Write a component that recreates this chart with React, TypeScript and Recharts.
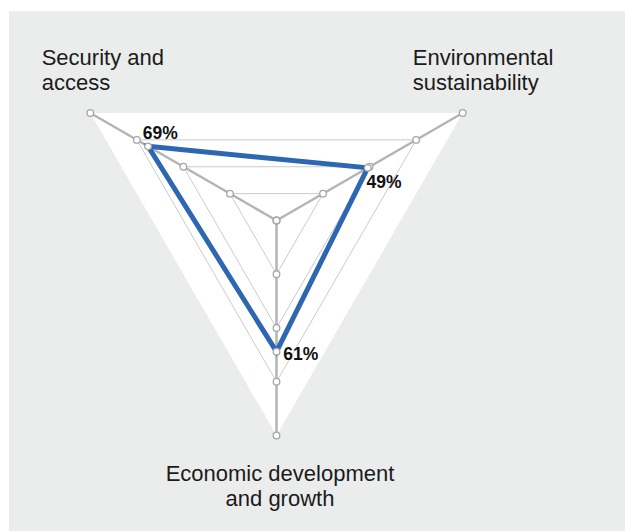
import React from 'react';
import { RadarChart, Radar, PolarGrid, PolarAngleAxis, PolarRadiusAxis } from 'recharts';

// ---- data ----
const categories = ['Security and access', 'Environmental sustainability', 'Economic development and growth'];
const categoryLines = [
  ['Security and', 'access'],
  ['Environmental', 'sustainability'],
  ['Economic development', 'and growth'],
];
const scores = [69, 49, 61];
const scoreLabels = ['69%', '49%', '61%'];
const gridLevels = [0, 25, 50, 75, 100];
const ringTicks = [25, 50, 75];
const radiusDomain = [0, 100];

const data = categories.map((c, i) => {
  const row: Record<string, any> = { axis: c, score: scores[i], label: scoreLabels[i] };
  gridLevels.forEach((l) => {
    row['lvl' + l] = l;
  });
  return row;
});

// ---- styling ----
const FONT = '"Liberation Sans", Arial, Helvetica, sans-serif';
const BLUE = '#2d67b2';
const AXIS_GRAY = '#b4b4b4';
const RING_GRAY = '#cbcbcb';
const DOT_STROKE = '#a6a6a6';

const CHART = {
  width: 625,
  height: 531,
  cx: 276.5,
  cy: 220.5,
  outerRadius: 215,
  startAngle: 150,
  endAngle: -210,
  margin: { top: 0, right: 0, bottom: 0, left: 0 },
};

const tickLayout = [
  { dx: -41.7, dy: -43.7, anchor: 'start' },
  { dx: -56.9, dy: -43.7, anchor: 'start' },
  { dx: 3.5, dy: 37.2, anchor: 'middle' },
];
const LINE_GAP = 25;

const AngleTick = (props: any) => {
  const { x, y, payload } = props;
  const i = categories.indexOf(payload.value);
  if (i < 0) return null;
  const lay = tickLayout[i];
  const tx = x + lay.dx;
  return (
    <text x={tx} y={y + lay.dy} textAnchor={lay.anchor as any} fontSize={22} fill="#1b1b1b" fontFamily={FONT}>
      {categoryLines[i].map((l, k) => (
        <tspan key={k} x={tx} dy={k === 0 ? 0 : LINE_GAP}>
          {l}
        </tspan>
      ))}
    </text>
  );
};

const labelLayout = [
  { dx: -5.3, dy: -7.3 },
  { dx: -1.2, dy: 20.2 },
  { dx: 6.8, dy: 8 },
];

const GridDot = (props: any) => {
  const { cx, cy } = props;
  if (cx == null || cy == null) return <g />;
  return <circle cx={cx} cy={cy} r={3.3} fill="#ffffff" stroke={DOT_STROKE} strokeWidth={1.3} />;
};

const ScoreDot = (props: any) => {
  const { cx, cy, index } = props;
  if (cx == null || cy == null) return <g />;
  const lay = labelLayout[index] || { dx: 0, dy: 0 };
  return (
    <g>
      <circle cx={cx} cy={cy} r={3.3} fill="#ffffff" stroke={DOT_STROKE} strokeWidth={1.3} />
      <text
        x={cx + lay.dx}
        y={cy + lay.dy}
        textAnchor="start"
        fontSize={17.5}
        fontWeight="bold"
        fill="#111111"
        fontFamily={FONT}
      >
        {scoreLabels[index]}
      </text>
    </g>
  );
};

export default function App() {
  return (
    <div style={{ position: 'relative', width: 625, height: 531, overflow: 'hidden', background: '#ffffff' }}>
      <style>{'body{margin:0}'}</style>
      <div style={{ position: 'absolute', left: 9, top: 11, width: 616, height: 520, background: '#ebecec' }} />
      {/* white background triangle (outer level) */}
      <div style={{ position: 'absolute', left: 0, top: 0 }}>
        <RadarChart {...CHART} data={data}>
          <PolarRadiusAxis domain={radiusDomain as any} tick={false} axisLine={false} tickLine={false} />
          <PolarAngleAxis dataKey="axis" tick={false} tickLine={false} axisLine={false} />
          <Radar dataKey="lvl100" stroke="none" fill="#ffffff" fillOpacity={1} dot={false} isAnimationActive={false} />
        </RadarChart>
      </div>
      {/* grid, dots and data */}
      <div style={{ position: 'absolute', left: 0, top: 0 }}>
        <RadarChart {...CHART} data={data}>
          <PolarGrid gridType="polygon" radialLines={false} stroke={RING_GRAY} strokeWidth={1} />
          <PolarGrid gridType="polygon" polarRadius={[]} radialLines={true} stroke={AXIS_GRAY} strokeWidth={2.5} />
          <PolarRadiusAxis
            domain={radiusDomain as any}
            ticks={ringTicks as any}
            tick={false}
            axisLine={false}
            tickLine={false}
          />
          <PolarAngleAxis dataKey="axis" tick={<AngleTick />} tickLine={false} axisLine={false} tickSize={8} />
          {gridLevels.map((l) => (
            <Radar
              key={l}
              dataKey={'lvl' + l}
              stroke="none"
              fill="none"
              fillOpacity={0}
              dot={<GridDot />}
              isAnimationActive={false}
            />
          ))}
          <Radar
            dataKey="score"
            stroke={BLUE}
            strokeWidth={5}
            strokeLinejoin="miter"
            fill="none"
            fillOpacity={0}
            dot={<ScoreDot />}
            isAnimationActive={false}
          />
        </RadarChart>
      </div>
    </div>
  );
}
